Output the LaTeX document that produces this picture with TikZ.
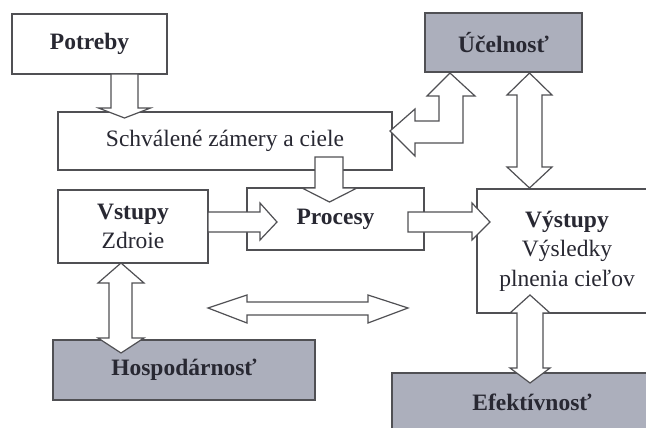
\documentclass[tikz,border=0pt]{standalone}
\usepackage{fontspec}
\setmainfont{Liberation Serif}
\definecolor{boxgray}{RGB}{172,175,188}
\definecolor{linegray}{RGB}{80,80,84}
\definecolor{textdark}{RGB}{40,40,50}
\tikzset{
  box/.style={draw=linegray,line width=1.3pt,fill=white,inner sep=0pt,align=center,
    text=textdark,font=\fontsize{23.5}{29.5}\selectfont},
  shaded/.style={box,fill=boxgray},
  blockarrow/.style={draw=linegray,line width=1.2pt,fill=white,line join=miter}
}
\begin{document}
\begin{tikzpicture}[x=1pt,y=-1pt]
      \clip (0,0) rectangle (646,428);
      \fill[white] (0,0) rectangle (646,428);
      \node[box,minimum width=155,minimum height=60] (potreby) at (89.5,44) {\textbf{Potreby}};
      \node[shaded,minimum width=157,minimum height=59] (ucelnost) at (503.5,42.5) {\textbf{Účelnosť}};
      \node[box,minimum width=334,minimum height=58] (zamery) at (225,141) {Schválené zámery a ciele};
      \node[box,minimum width=150,minimum height=73] (vstupy) at (133,226.5) {\textbf{Vstupy}\\Zdroie};
      \node[box,minimum width=177,minimum height=62] (procesy) at (335.5,219) {\textbf{Procesy}};
      \node[box,minimum width=180,minimum height=124] (vystupy) at (567,251) {\textbf{Výstupy}\\Výsledky\\plnenia cieľov};
      \node[shaded,minimum width=262,minimum height=60] (hospodarnost) at (184,370) {\textbf{Hospodárnosť}};
      \node[shaded,minimum width=280,minimum height=58] (efektivnost) at (532,402) {\textbf{Efektívnosť}};
      \draw [blockarrow] (111,74) -- (111,108) -- (98.5,108) -- (124.5,118) -- (150.5,108) -- (138,108) -- (138,74) -- cycle;
      \draw [blockarrow] (315,157) -- (315,188) -- (302,188) -- (329.5,202) -- (357,188) -- (343,188) -- (343,157) -- cycle;
      \draw [blockarrow] (208,212) -- (260,212) -- (260,203) -- (277,222) -- (260,240) -- (260,232) -- (208,232) -- cycle;
      \draw [blockarrow] (408,212) -- (472,212) -- (472,203) -- (490,222) -- (472,240) -- (472,232) -- (408,232) -- cycle;
      \draw [blockarrow] (450,73) -- (475,96) -- (463,96) -- (463,143) -- (415,143) -- (415,156) -- (390,131)
        -- (415,109) -- (415,121) -- (439,121) -- (439,96) -- (427,96) -- cycle;
      \draw [blockarrow] (529.5,73) -- (552,95) -- (542,95) -- (542,167) -- (552,167) -- (529.5,188)
        -- (507,167) -- (517,167) -- (517,95) -- (507,95) -- cycle;
      \draw [blockarrow] (121,263) -- (144,283) -- (132,283) -- (132,338) -- (144,338) -- (121,353)
        -- (98,338) -- (109,338) -- (109,283) -- (98,283) -- cycle;
      \draw [blockarrow] (208,308) -- (247,295) -- (247,302) -- (368,302) -- (368,295) -- (408,308)
        -- (368,323) -- (368,315) -- (247,315) -- (247,323) -- cycle;
      \draw [blockarrow] (530,295) -- (550,313) -- (543,313) -- (543,368) -- (550,368) -- (530,383)
        -- (510,368) -- (517,368) -- (517,313) -- (510,313) -- cycle;
    \end{tikzpicture}
\end{document}
